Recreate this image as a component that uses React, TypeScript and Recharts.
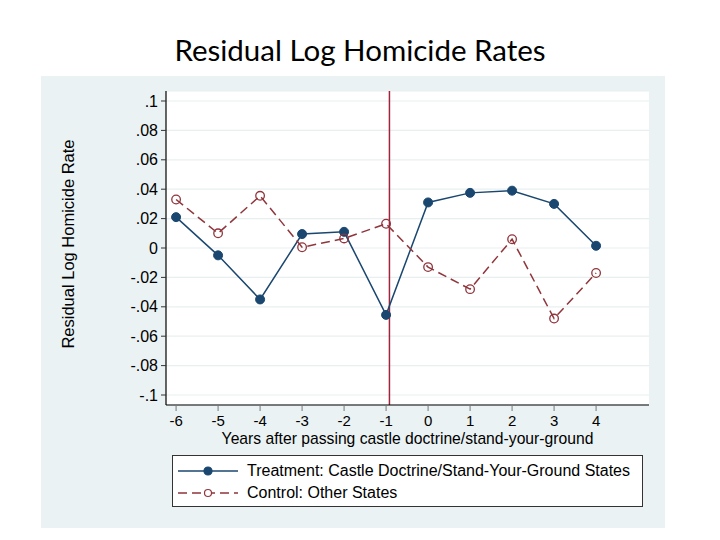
import React from 'react';
import { LineChart, Line, XAxis, YAxis, CartesianGrid, ReferenceLine } from 'recharts';

// Event-time (years relative to adoption)
const years = [-6, -5, -4, -3, -2, -1, 0, 1, 2, 3, 4];

// Residual log homicide rates by group
const treatment = [0.021, -0.005, -0.035, 0.0095, 0.011, -0.0455, 0.031, 0.0375, 0.039, 0.03, 0.0015];
const control = [0.033, 0.01, 0.0355, 0.0005, 0.0065, 0.0165, -0.013, -0.028, 0.006, -0.048, -0.017];

const yTicks = [-0.1, -0.08, -0.06, -0.04, -0.02, 0, 0.02, 0.04, 0.06, 0.08, 0.1];
const xTicks = years;

const adoptionLine = -0.92;

const seriesInfo = [
  { key: 'treatment', name: 'Treatment: Castle Doctrine/Stand-Your-Ground States', color: '#1a476f', dashed: false, hollow: false },
  { key: 'control', name: 'Control: Other States', color: '#90353b', dashed: true, hollow: true },
];

const data = years.map((yr, i) => ({ year: yr, treatment: treatment[i], control: control[i] }));

// Stata-style number labels: ".1", "-.02", "0"
const fmt = (v: number) => {
  if (Math.abs(v) < 1e-9) return '0';
  const s = parseFloat(v.toFixed(2)).toString();
  return s.replace(/^(-?)0\./, '$1.');
};

const FONT = '"Liberation Sans", Arial, sans-serif';

function LegendBox() {
  return (
    <div
      style={{
        position: 'absolute',
        left: 172,
        top: 455,
        width: 469,
        height: 50,
        border: '1px solid #333',
        background: '#fff',
        fontFamily: FONT,
        fontSize: 16,
        color: '#000',
      }}
    >
      {seriesInfo.map((s, i) => (
        <div
          key={s.key}
          style={{ position: 'absolute', left: 5, top: i === 0 ? 5 : 27, height: 20, display: 'flex', alignItems: 'center' }}
        >
          <svg width={60} height={14} style={{ display: 'block' }}>
            <line x1={0} y1={7} x2={60} y2={7} stroke={s.color} strokeWidth={1.5} strokeDasharray={s.dashed ? '9 5' : undefined} />
            <circle cx={30} cy={7} r={s.hollow ? 3.5 : 4} fill={s.hollow ? '#fff' : s.color} stroke={s.color} strokeWidth={1.2} />
          </svg>
          <span style={{ marginLeft: 9, whiteSpace: 'nowrap' }}>{s.name}</span>
        </div>
      ))}
    </div>
  );
}

export default function App() {
  return (
    <div style={{ position: 'absolute', left: 0, top: 0, width: 720, height: 540, background: '#fff', overflow: 'hidden' }}>
      <div
        style={{
          position: 'absolute',
          left: 0,
          width: 720,
          top: 30,
          textAlign: 'center',
          fontFamily: 'Lato, "Open Sans", sans-serif',
          fontSize: 29.5,
          color: '#000',
          lineHeight: '40px',
        }}
      >
        Residual Log Homicide Rates
      </div>
      <div style={{ position: 'absolute', left: 41, top: 76, width: 624, height: 452, background: '#eaf2f3' }} />
      <div style={{ position: 'absolute', left: 0, top: 0 }}>
        <LineChart width={720} height={540} data={data} margin={{ top: 91, right: 71, bottom: 105, left: 106 }}>
          <CartesianGrid vertical={false} stroke="#e8eff0" strokeWidth={1.2} fill="#fff" />
          <XAxis
            dataKey="year"
            type="number"
            domain={[-6.24, 5.26]}
            ticks={xTicks}
            allowDataOverflow
            height={30}
            tickSize={6}
            tickMargin={4}
            tick={{ fill: '#000', fontSize: 15, fontFamily: FONT }}
            tickLine={{ stroke: '#777' }}
            axisLine={{ stroke: '#000', strokeWidth: 1.2 }}
          />
          <YAxis
            type="number"
            domain={[-0.1068, 0.1068]}
            ticks={yTicks}
            allowDataOverflow
            width={60}
            tickFormatter={fmt}
            tickSize={5}
            tickMargin={3}
            tick={{ fill: '#000', fontSize: 16, fontFamily: FONT }}
            tickLine={{ stroke: '#333' }}
            axisLine={{ stroke: '#000', strokeWidth: 1.2 }}
          />
          <ReferenceLine x={adoptionLine} stroke="#a3233f" strokeWidth={1.5} />
          <Line
            dataKey="treatment"
            name={seriesInfo[0].name}
            stroke={seriesInfo[0].color}
            strokeWidth={1.5}
            dot={{ r: 4.5, fill: seriesInfo[0].color, stroke: seriesInfo[0].color, strokeWidth: 1 }}
            isAnimationActive={false}
          />
          <Line
            dataKey="control"
            name={seriesInfo[1].name}
            stroke={seriesInfo[1].color}
            strokeWidth={1.5}
            strokeDasharray="9 5"
            dot={{ r: 4.3, fill: 'none', stroke: seriesInfo[1].color, strokeWidth: 1.3, strokeDasharray: '' }}
            isAnimationActive={false}
          />
        </LineChart>
      </div>
      <div
        style={{
          position: 'absolute',
          left: 166,
          width: 483,
          top: 430,
          textAlign: 'center',
          fontFamily: FONT,
          fontSize: 15.7,
          color: '#000',
          lineHeight: '18px',
        }}
      >
        Years after passing castle doctrine/stand-your-ground
      </div>
      <div
        style={{
          position: 'absolute',
          left: 68,
          top: 244,
          transform: 'translate(-50%, -50%) rotate(-90deg)',
          fontFamily: FONT,
          fontSize: 16.5,
          color: '#000',
          whiteSpace: 'nowrap',
          lineHeight: '20px',
        }}
      >
        Residual Log Homicide Rate
      </div>
      <LegendBox />
    </div>
  );
}
